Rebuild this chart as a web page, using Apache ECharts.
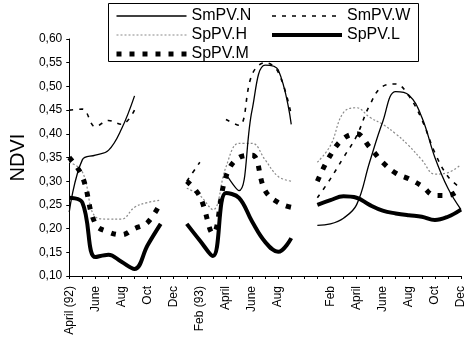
<!DOCTYPE html>
<html>
<head>
<meta charset="utf-8">
<script src="https://cdn.jsdelivr.net/npm/echarts@6/dist/echarts.min.js"></script>
<style>
html,body{margin:0;padding:0;background:#fff;}
#chart{width:467px;height:344px;}
</style>
</head>
<body>
<div id="chart"></div>
<script>
// Category positions (monthly) with blank gap slots
var months = ['Apr92','May92','Jun92','Jul92','Aug92','Sep92','Oct92','Nov92','Dec92',
  'Jan93','Feb93','Mar93','Apr93','May93','Jun93','Jul93','Aug93','Sep93','Gap',
  'Jan94','Feb94','Mar94','Apr94','May94','Jun94','Jul94','Aug94','Sep94','Oct94','Nov94','Dec94'];
var tickLabels = ['April (92)','','June','','Aug','','Oct','','Dec',
  '','Feb (93)','','April','','June','','Aug','','',
  '','Feb','','April','','June','','Aug','','Oct','','Dec'];
var yTicks = [0.10,0.15,0.20,0.25,0.30,0.35,0.40,0.45,0.50,0.55,0.60];

var smpvN = [0.235,0.345,0.355,0.365,0.41,0.48,null,null,null,
  null,null,null,0.315,0.28,0.45,0.545,0.535,0.42,null,
  0.207,0.21,0.222,0.25,0.34,0.425,0.489,0.482,0.435,0.35,0.285,0.24];
var smpvW = [0.45,0.452,0.415,0.428,0.42,0.45,null,null,null,
  0.30,0.34,null,0.43,0.418,0.525,0.55,0.53,0.44,null,
  0.265,0.305,0.35,0.395,0.46,0.50,0.505,0.48,0.43,0.36,0.31,0.285];
var sppvH = [0.34,0.32,0.225,0.22,0.22,0.245,0.255,0.26,null,
  0.285,0.27,0.24,0.33,0.38,0.38,0.345,0.31,0.30,null,
  0.34,0.375,0.445,0.455,0.435,0.42,0.40,0.375,0.345,0.315,0.318,0.335];
var sppvL = [0.265,0.255,0.14,0.145,0.13,0.115,0.165,0.21,null,
  0.21,0.175,0.142,0.275,0.265,0.215,0.172,0.151,0.18,null,
  0.25,0.26,0.268,0.265,0.25,0.238,0.232,0.228,0.225,0.218,0.225,0.24];
var sppvM = [0.35,0.31,0.21,0.193,0.187,0.20,0.213,0.255,null,
  0.30,0.268,0.19,0.31,0.35,0.355,0.28,0.255,0.245,null,
  0.30,0.355,0.39,0.40,0.372,0.34,0.317,0.305,0.29,0.27,0.27,0.285];

var FONT = 'Liberation Sans, Arial, sans-serif';
var chart = echarts.init(document.getElementById('chart'), null, {renderer:'canvas'});

var styles = {
  'SmPV.N': {color:'#000', width:1.3, type:'solid'},
  'SmPV.W': {color:'#000', width:1.6, type:[4,6]},
  'SpPV.H': {color:'#8a8a8a', width:1.2, type:[2,2]},
  'SpPV.L': {color:'#000', width:4, type:'solid'},
  'SpPV.M': {color:'#000', width:5, type:[5,8]}
};
function mk(name, data, z) {
  return {name:name, type:'line', data:data, smooth:0.4, symbol:'none', showSymbol:false,
    connectNulls:false, lineStyle:styles[name], itemStyle:{color:styles[name].color, opacity:0},
    z:z, animation:false};
}
function legItem(name) {
  return {name:name, itemStyle:{opacity:0}, lineStyle:styles[name]};
}

chart.setOption({
  animation:false,
  backgroundColor:'#fff',
  textStyle:{fontFamily:FONT},
  grid:{left:63, right:5, top:39, bottom:68},
  graphic:[{type:'rect', shape:{x:108.5, y:3.5, width:310, height:58},
    style:{fill:'#fff', stroke:'#000', lineWidth:1}, z:1}],
  legend:[
    {data:['SmPV.N','SpPV.H','SpPV.M'].map(legItem), orient:'vertical', left:114, top:8,
     itemWidth:70, itemHeight:14, itemGap:3, padding:0, z:10, itemStyle:{opacity:0},
     textStyle:{fontSize:16, color:'#000', fontFamily:FONT}},
    {data:['SmPV.W','SpPV.L'].map(legItem), orient:'vertical', left:270, top:8,
     itemWidth:70, itemHeight:14, itemGap:3, padding:0, z:10, itemStyle:{opacity:0},
     textStyle:{fontSize:16, color:'#000', fontFamily:FONT}}
  ],
  xAxis:{type:'category', data:months, boundaryGap:false,
    axisLine:{lineStyle:{color:'#000', width:1}},
    axisTick:{show:true, interval:0, length:3, lineStyle:{color:'#000'}},
    axisLabel:{interval:0, rotate:90, margin:10, fontSize:12, color:'#000', fontFamily:FONT,
      formatter:function(v, i){ return tickLabels[i]; }},
    splitLine:{show:false}},
  yAxis:{type:'value', min:yTicks[0], max:yTicks[yTicks.length-1], interval:0.05,
    name:'NDVI', nameLocation:'middle', nameRotate:90, nameGap:38,
    nameTextStyle:{fontSize:20, color:'#000', fontFamily:FONT},
    axisLine:{show:true, lineStyle:{color:'#000', width:1}},
    axisTick:{show:true, length:3, lineStyle:{color:'#000'}},
    axisLabel:{fontSize:12, color:'#000', margin:7, fontFamily:FONT,
      formatter:function(v){ return v.toFixed(2).replace('.', ','); }},
    splitLine:{show:false}},
  series:[
    mk('SmPV.N', smpvN, 4),
    mk('SmPV.W', smpvW, 4),
    mk('SpPV.H', sppvH, 2),
    mk('SpPV.L', sppvL, 3),
    mk('SpPV.M', sppvM, 3)
  ]
});
</script>
</body>
</html>
